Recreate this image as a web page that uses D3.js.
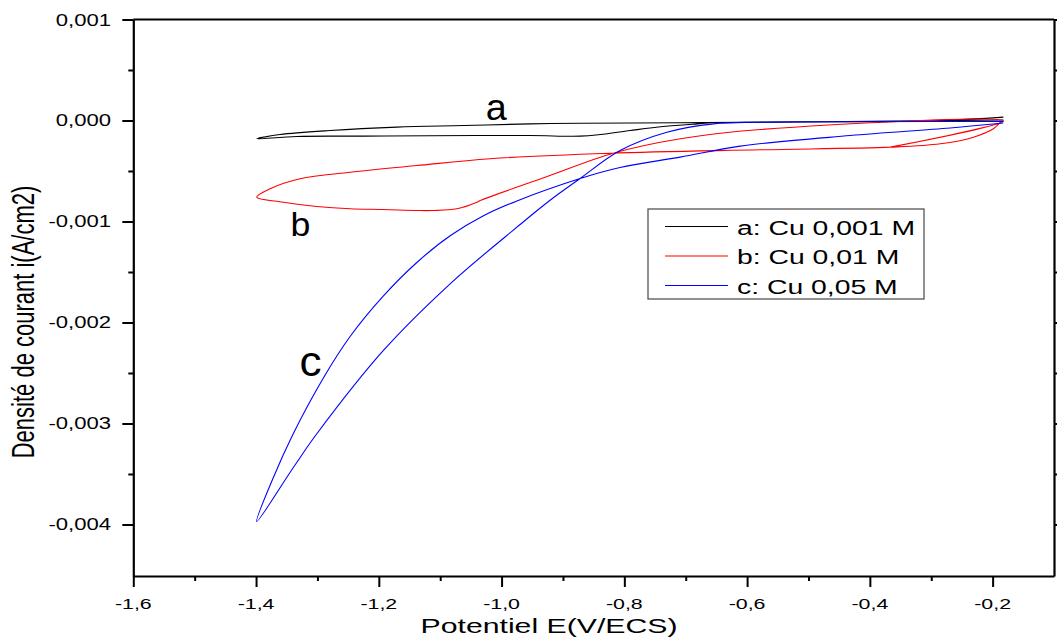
<!DOCTYPE html>
<html>
<head>
<meta charset="utf-8">
<script src="https://cdn.jsdelivr.net/npm/d3@7"></script>
<style>
  body { margin: 0; background: #fff; }
  text { font-family: "Liberation Sans", Arial, sans-serif; fill: #000; }
</style>
</head>
<body>
<svg width="1057" height="642"></svg>
<script>
var width = 1057, height = 642;

// curve a : Cu 0,001 M (potential V, current A/cm2)
var eA = [-0.1824, -0.285, -0.611, -0.709, -0.872, -0.9534, -1.062, -1.1707, -1.2795, -1.361, -1.399,
          -1.3337, -1.225, -1.1164, -0.9534, -0.872, -0.8393, -0.7904, -0.7366, -0.681, -0.655, -0.5135, -0.1824];
var iA = [0.000033, 0.0, -0.000017, -0.000023, -0.000027, -0.000033, -0.00005, -0.000066, -0.000099, -0.000139, -0.000181,
          -0.000158, -0.000155, -0.000151, -0.000149, -0.000155, -0.000139, -0.000099, -0.000059, -0.000033, -0.000023, -0.000015, 0.000005];

// curve b : Cu 0,01 M
var eB = [-0.3666, -0.1824, -0.5785, -0.7089, -0.8181, -0.9257, -1.0349, -1.0403, -1.0729, -1.111, -1.138, -1.1925,
          -1.2468, -1.301, -1.3555, -1.3989, -1.3772, -1.3283, -1.2468, -1.138, -1.0186, -0.8231, -0.5785, -0.3666,
          -0.2851, -0.2313, -0.1987, -0.1873];
var iB = [-0.000264, -0.000005, -0.000089, -0.000181, -0.000324, -0.000554, -0.000792, -0.000809, -0.000874, -0.000891, -0.000891, -0.000881,
          -0.000874, -0.000851, -0.000809, -0.000759, -0.000676, -0.000577, -0.000512, -0.000446, -0.000379, -0.000324, -0.00029, -0.000264,
          -0.000231, -0.000165, -0.000082, -0.000017];

// curve c : Cu 0,05 M
var eC = [-0.1827, -0.2691, -0.4321, -0.6113, -0.709, -0.807, -0.872, -0.975, -1.0295, -1.0838, -1.1381, -1.1925, -1.2468, -1.2903, -1.3392, -1.3718, -1.399,
          -1.339, -1.301, -1.1925, -1.0838, -0.975, -0.9215, -0.872, -0.807, -0.7306, -0.6546, -0.5785, -0.1824];
var iC = [-0.000025, -0.000074, -0.000149, -0.000254, -0.000363, -0.000465, -0.000574, -0.000796, -0.000943, -0.001141, -0.001406, -0.001737, -0.002139, -0.002549, -0.003098, -0.003534, -0.00397,
          -0.003433, -0.003102, -0.002277, -0.001617, -0.001056, -0.000792, -0.000574, -0.000297, -0.000116, -0.000033, -0.000017, -0.00001];

var seriesNames = ["a: Cu 0,001 M", "b: Cu 0,01 M", "c: Cu 0,05 M"];
var seriesLetters = ["a", "b", "c"];
var seriesColors = ["#000000", "#ff0000", "#0000ff"];

var xMajor = [-1.6, -1.4, -1.2, -1.0, -0.8, -0.6, -0.4, -0.2];
var xMinor = [-1.5, -1.3, -1.1, -0.9, -0.7, -0.5, -0.3];
var yMajor = [-0.004, -0.003, -0.002, -0.001, 0.0, 0.001];
var yMinor = [-0.0035, -0.0025, -0.0015, -0.0005, 0.0005];

var svg = d3.select("svg");
var SX = 1.38; // the original picture is stretched sideways

var x = d3.scaleLinear().domain([-1.6, -0.1]).range([133.3, 1054]);
var y = d3.scaleLinear().domain([-0.00451, 0.001]).range([576, 19.5]);

var fmtX = function (d) { return d3.format(".1f")(d).replace(".", ",").replace("−", "-"); };
var fmtY = function (d) { return d3.format(".3f")(d).replace(".", ",").replace("−", "-"); };

// curves
var line = d3.line()
    .x(function (d) { return x(d[0]); })
    .y(function (d) { return y(d[1]); })
    .curve(d3.curveCatmullRom.alpha(0.5));

[[eA, iA], [eB, iB], [eC, iC]].forEach(function (s, k) {
    svg.append("path")
        .datum(d3.zip(s[0], s[1]))
        .attr("d", line)
        .attr("fill", "none")
        .attr("stroke", seriesColors[k])
        .attr("stroke-width", 1.1)
        .attr("stroke-linejoin", "round");
});

// axes
function styleAxis(g) {
    g.selectAll(".domain").attr("stroke-width", 2.2).attr("stroke", "#000");
    g.selectAll(".tick line").attr("stroke-width", 2).attr("stroke", "#000");
}
var gx = svg.append("g").attr("transform", "translate(0,576)")
    .call(d3.axisBottom(x).tickValues(xMajor).tickSize(11).tickSizeOuter(0).tickFormat(""));
gx.call(styleAxis);
svg.append("g").attr("transform", "translate(0,576)")
    .call(d3.axisBottom(x).tickValues(xMinor).tickSize(5).tickFormat(""))
    .call(styleAxis).select(".domain").remove();

var gy = svg.append("g").attr("transform", "translate(133.3,0)")
    .call(d3.axisLeft(y).tickValues(yMajor).tickSize(11).tickSizeOuter(0).tickFormat(""));
gy.call(styleAxis);
svg.append("g").attr("transform", "translate(133.3,0)")
    .call(d3.axisLeft(y).tickValues(yMinor).tickSize(5).tickFormat(""))
    .call(styleAxis).select(".domain").remove();

svg.append("g").attr("transform", "translate(1054,0)")
    .call(d3.axisRight(y).tickValues(yMajor).tickSize(11).tickSizeOuter(0).tickFormat(""))
    .call(styleAxis);
svg.append("g").attr("transform", "translate(1054,0)")
    .call(d3.axisRight(y).tickValues(yMinor).tickSize(5).tickFormat(""))
    .call(styleAxis).select(".domain").remove();

svg.append("line").attr("x1", 133.3).attr("x2", 1054).attr("y1", 19.5).attr("y2", 19.5)
    .attr("stroke", "#000").attr("stroke-width", 2.2);

// tick labels
svg.selectAll("text.xl").data(xMajor).enter().append("text")
    .attr("class", "xl")
    .attr("transform", function (d) { return "translate(" + x(d) + ",608.5) scale(" + SX + ",1)"; })
    .attr("text-anchor", "middle")
    .attr("font-size", 15.5)
    .text(fmtX);

svg.selectAll("text.yl").data(yMajor).enter().append("text")
    .attr("class", "yl")
    .attr("transform", function (d) { return "translate(111," + (y(d) + 6) + ") scale(" + SX + ",1)"; })
    .attr("text-anchor", "end")
    .attr("font-size", 16)
    .text(fmtY);

// axis titles
svg.append("text")
    .attr("transform", "translate(549,633) scale(1.44,1)")
    .attr("text-anchor", "middle")
    .attr("font-size", 21)
    .text("Potentiel E(V/ECS)");

svg.append("text")
    .attr("transform", "translate(34,322) scale(1.4,1) rotate(-90)")
    .attr("text-anchor", "middle")
    .attr("font-size", 22)
    .text("Densité de courant i(A/cm2)");

// curve letters (left edge, baseline, font size)
var letterPos = [[-1.0258, 0.0000049, 36], [-1.3437, -0.001139, 34], [-1.3292, -0.002525, 42]];
letterPos.forEach(function (p, k) {
    svg.append("text")
        .attr("transform", "translate(" + x(p[0]) + "," + y(p[1]) + ") scale(1.05,1)")
        .attr("font-size", p[2])
        .text(seriesLetters[k]);
});

// legend
var legend = svg.append("g").attr("transform", "translate(648,209)");
legend.append("rect")
    .attr("width", 276).attr("height", 90)
    .attr("fill", "#fff").attr("stroke", "#555").attr("stroke-width", 1.3);
seriesNames.forEach(function (name, k) {
    var ry = 17.5 + k * 29.5;
    legend.append("line")
        .attr("x1", 17).attr("x2", 80).attr("y1", ry).attr("y2", ry)
        .attr("stroke", seriesColors[k]).attr("stroke-width", 1.1);
    legend.append("text")
        .attr("transform", "translate(89," + (ry + 8) + ") scale(1.35,1)")
        .attr("font-size", 21)
        .text(name);
});
</script>
</body>
</html>
